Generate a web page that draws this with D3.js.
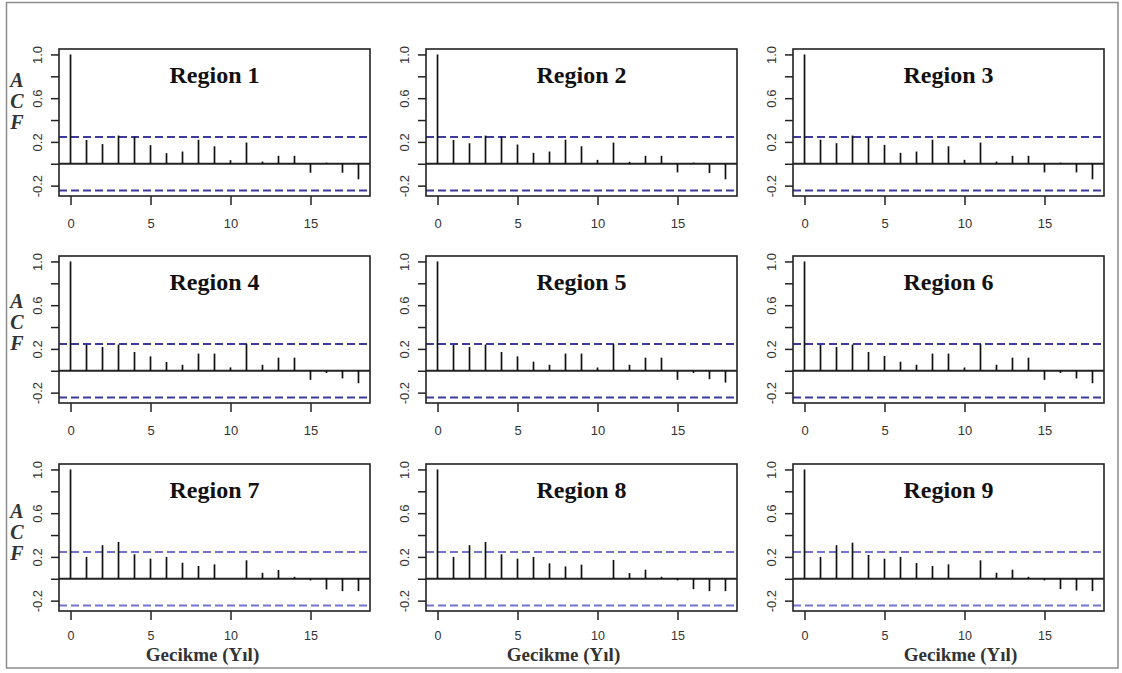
<!DOCTYPE html>
<html>
<head>
<meta charset="utf-8">
<script src="https://cdn.jsdelivr.net/npm/d3@7"></script>
<style>
  body { margin: 0; background: #fff; }
</style>
</head>
<body>
<svg id="chart" width="1122" height="673"></svg>
<script>
// Autocorrelation (ACF) by lag, one correlogram per region
const lags = [0, 1, 2, 3, 4, 5, 6, 7, 8, 9, 10, 11, 12, 13, 14, 15, 16, 17, 18];
const regionNames = ["Region 1", "Region 2", "Region 3", "Region 4", "Region 5",
                     "Region 6", "Region 7", "Region 8", "Region 9"];

const acfRegion1 = [1.0, 0.218, 0.18, 0.258, 0.248, 0.17, 0.097, 0.112, 0.22, 0.16, 0.033, 0.194, 0.02, 0.073, 0.073, -0.082, 0.01, -0.082, -0.142];
const acfRegion2 = [1.0, 0.218, 0.188, 0.258, 0.248, 0.176, 0.1, 0.112, 0.22, 0.16, 0.036, 0.194, 0.018, 0.073, 0.073, -0.079, 0.01, -0.085, -0.142];
const acfRegion3 = [1.0, 0.22, 0.188, 0.258, 0.24, 0.173, 0.1, 0.112, 0.22, 0.16, 0.036, 0.194, 0.02, 0.073, 0.073, -0.079, 0.01, -0.079, -0.142];
const acfRegion4 = [1.0, 0.237, 0.218, 0.24, 0.172, 0.132, 0.08, 0.055, 0.157, 0.157, 0.031, 0.243, 0.055, 0.12, 0.12, -0.083, -0.02, -0.07, -0.114];
const acfRegion5 = [1.0, 0.237, 0.218, 0.24, 0.172, 0.132, 0.083, 0.055, 0.157, 0.157, 0.03, 0.243, 0.055, 0.12, 0.12, -0.083, -0.02, -0.077, -0.108];
const acfRegion6 = [1.0, 0.237, 0.218, 0.24, 0.172, 0.135, 0.083, 0.055, 0.157, 0.157, 0.03, 0.243, 0.055, 0.12, 0.12, -0.083, -0.02, -0.07, -0.114];
const acfRegion7 = [1.0, 0.2, 0.307, 0.337, 0.224, 0.184, 0.2, 0.147, 0.117, 0.132, 0.0, 0.169, 0.055, 0.08, 0.018, -0.015, -0.098, -0.113, -0.113];
const acfRegion8 = [1.0, 0.2, 0.307, 0.337, 0.224, 0.184, 0.2, 0.141, 0.113, 0.129, 0.0, 0.172, 0.052, 0.083, 0.018, -0.015, -0.095, -0.113, -0.113];
const acfRegion9 = [1.0, 0.2, 0.307, 0.33, 0.218, 0.184, 0.2, 0.144, 0.117, 0.132, 0.0, 0.169, 0.055, 0.083, 0.018, -0.015, -0.095, -0.107, -0.113];

// Significance bound (white-noise confidence limit)
const confLimit = 0.245;

const xTickValues = [0, 5, 10, 15];
const yTickValues = [-0.2, 0.0, 0.2, 0.4, 0.6, 0.8, 1.0];
const yTickLabels = ["-0.2", "0.2", "0.6", "1.0"];
const xAxisTitle = "Gecikme (Yıl)";
const yAxisLetters = ["A", "C", "F"];

const acfSeries = [acfRegion1, acfRegion2, acfRegion3, acfRegion4, acfRegion5,
                   acfRegion6, acfRegion7, acfRegion8, acfRegion9];

// ---- layout ----
const svg = d3.select("#chart");
const panelW = 311, panelH = 147;
const colLeft = [59, 426, 793];
const rowTop = [49, 256, 464];
const letterOffset = [38, 52, 54];       // baseline of "A" below panel top, per row
const dashColor = ["#3c3c9c", "#3c3c9c", "#7474cc"];
const xTitleShift = [-12, -18, 12];
const xLabelPad = [14, 14, 11];
const sans = "'Liberation Sans', Arial, sans-serif";
const serif = "'Liberation Serif', 'Times New Roman', serif";

// outer frame
svg.append("rect")
  .attr("x", 6.5).attr("y", 2.5)
  .attr("width", 1111.5).attr("height", 665.5)
  .attr("fill", "none").attr("stroke", "#8c8c8c").attr("stroke-width", 1.5);

// R-style range extension (4% on each side)
const xExt = d3.extent(lags);
const xPad = (xExt[1] - xExt[0]) * 0.04;
const yLo = Math.min(-confLimit, d3.min(acfSeries.flat()));
const yHi = 1;
const yPad = (yHi - yLo) * 0.04;

acfSeries.forEach((vals, i) => {
  const r = Math.floor(i / 3), c = i % 3;
  const left = colLeft[c], top = rowTop[r];

  const x = d3.scaleLinear().domain([xExt[0] - xPad, xExt[1] + xPad]).range([left, left + panelW]);
  const y = d3.scaleLinear().domain([yLo - yPad, yHi + yPad]).range([top + panelH, top]);

  const g = svg.append("g");

  // x axis
  const xAxis = g.append("g")
    .attr("transform", `translate(0,${top + panelH})`)
    .call(d3.axisBottom(x).tickValues(xTickValues).tickSize(9).tickPadding(xLabelPad[r]).tickFormat(d3.format("d")));
  xAxis.select(".domain").remove();
  xAxis.selectAll("line").attr("stroke", "#222").attr("stroke-width", 1.5);
  xAxis.selectAll("text").attr("fill", "#333")
    .style("font-size", r === 2 ? "12.5px" : "13px").style("font-family", sans);

  // y axis with rotated labels
  const yAxis = g.append("g")
    .attr("transform", `translate(${left},0)`)
    .call(d3.axisLeft(y).tickValues(yTickValues).tickSize(8)
      .tickFormat(d => { const s = d3.format(".1f")(d).replace("−", "-"); return yTickLabels.includes(s) ? s : ""; }));
  yAxis.select(".domain").remove();
  yAxis.selectAll("line").attr("stroke", "#222").attr("stroke-width", 1.5);
  yAxis.selectAll("text")
    .attr("fill", "#333")
    .style("font-size", "13px").style("font-family", sans)
    .attr("transform", "rotate(-90)")
    .attr("x", 0).attr("y", -17).attr("dy", 0)
    .style("text-anchor", "middle");

  // zero line
  g.append("line")
    .attr("x1", left).attr("x2", left + panelW)
    .attr("y1", y(0)).attr("y2", y(0))
    .attr("stroke", "#222").attr("stroke-width", 2);

  // confidence bounds
  [confLimit, -confLimit].forEach(v => {
    g.append("line")
      .attr("x1", left).attr("x2", left + panelW)
      .attr("y1", y(v)).attr("y2", y(v))
      .attr("stroke", dashColor[r]).attr("stroke-width", 2)
      .attr("stroke-dasharray", "8,4");
  });

  // ACF spikes
  g.selectAll("line.spike").data(lags.map((l, k) => ({ lag: l, v: vals[k] })))
    .enter().append("line").attr("class", "spike")
    .attr("x1", d => x(d.lag)).attr("x2", d => x(d.lag))
    .attr("y1", y(0)).attr("y2", d => y(d.v))
    .attr("stroke", "#111").attr("stroke-width", 1.7);

  // plot box
  g.append("rect")
    .attr("x", left).attr("y", top)
    .attr("width", panelW).attr("height", panelH)
    .attr("fill", "none").attr("stroke", "#222").attr("stroke-width", 1.6);

  // panel title
  g.append("text")
    .attr("x", left + panelW / 2).attr("y", top + 34)
    .attr("text-anchor", "middle")
    .style("font-family", serif).style("font-weight", "bold").style("font-size", "24px")
    .attr("fill", "#111")
    .text(regionNames[i]);

  // stacked ACF letters on the first column
  if (c === 0) {
    yAxisLetters.forEach((ch, k) => {
      g.append("text")
        .attr("x", 17).attr("y", top + letterOffset[r] + k * 21)
        .attr("text-anchor", "middle")
        .style("font-family", serif).style("font-weight", "bold")
        .style("font-style", "italic").style("font-size", "20px")
        .attr("fill", "#333")
        .text(ch);
    });
  }

  // x axis title on the bottom row
  if (r === 2) {
    g.append("text")
      .attr("x", left + panelW / 2 + xTitleShift[c]).attr("y", 661)
      .attr("text-anchor", "middle")
      .style("font-family", serif).style("font-weight", "bold").style("font-size", "19px")
      .attr("fill", "#333")
      .text(xAxisTitle);
  }
});
</script>
</body>
</html>
